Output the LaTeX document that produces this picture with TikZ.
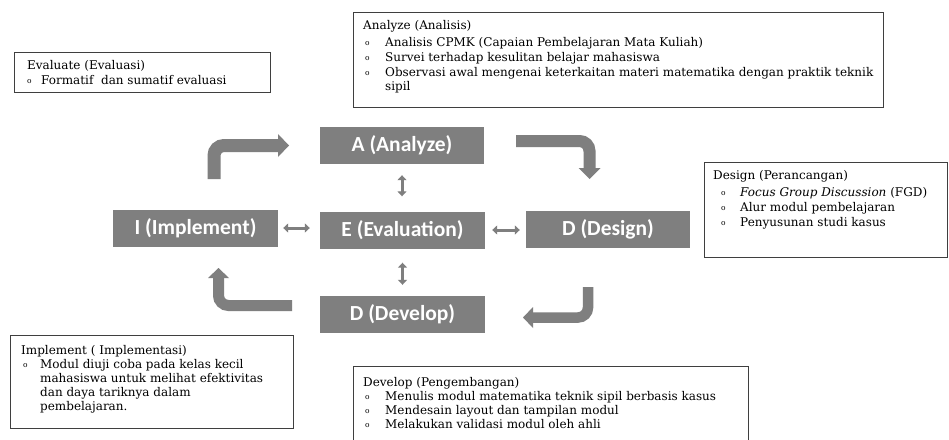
\documentclass[tikz,border=0pt]{standalone}
\usepackage{fontspec}
\setmainfont{DejaVu Serif}
\newfontfamily\blockfont{Carlito}
\usetikzlibrary{arrows.meta}
\definecolor{blockgray}{HTML}{7F7F7F}
\definecolor{boxline}{HTML}{3F3F3F}
\newcommand{\smallo}{\raisebox{0.15ex}{\fontsize{7.5}{7.5}\selectfont o}}
\newcommand{\itm}[3]{\hspace*{#1}\makebox[#2][l]{\smallo}#3}
\begin{document}
\begin{tikzpicture}[x=1pt,y=-1pt,
  block/.style={fill=blockgray, text=white, font=\blockfont\bfseries\fontsize{21.5}{24}\selectfont, inner sep=0, minimum height=37pt},
  tbox/.style={draw=boxline, line width=0.8pt, anchor=north west, inner sep=0},
  ttext/.style={anchor=north west, inner sep=0, align=left, font=\fontsize{12}{#1}\selectfont},
  ttext/.default=14.6,
  shaft/.style={draw=blockgray, rounded corners=10pt},
  head/.style={fill=blockgray},
  dbl/.style={draw=blockgray, line width=3pt, {Triangle[width=9pt,length=5pt]}-{Triangle[width=9pt,length=5pt]}}
]
\useasboundingbox (0,0) rectangle (949,439);
\fill[white] (0,0) rectangle (949,439);

% blocks
\node[block, minimum width=164pt] (A) at (402,145.5) {A (Analyze)};
\node[block, minimum width=165pt] (E) at (402.5,230) {E (Evaluation)};
\node[block, minimum width=164pt] (Ds) at (608,229.5) {D (Design)};
\node[block, minimum width=165pt] (Dv) at (402.5,314.5) {D (Develop)};
\node[block, minimum width=165pt] (I) at (195.5,228) {I (Implement)};

% double arrows
\draw[dbl, shorten <=5pt, shorten >=10pt] (I.east) -- (I.east -| E.west);
\draw[dbl, shorten <=7pt, shorten >=6pt] (E.east) -- (E.east -| Ds.west);
\draw[dbl, shorten <=11pt, shorten >=15pt] (A.south) -- (A.south |- E.north);
\draw[dbl, shorten <=14pt, shorten >=11pt] (E.south) -- (E.south |- Dv.north);

% block arrows
\coordinate (tla) at (214,179);
\coordinate (tlb) at (214,145.5);
\coordinate (tlc) at (278.5,145.5);
\draw[shaft, line width=13pt] (tla) -- (tlb) -- (tlc);
\fill[head] (278,134) -- (289,145.5) -- (278,157) -- cycle;

\coordinate (tra) at (516,141);
\coordinate (trb) at (589.5,141);
\coordinate (trc) at (589.5,168.5);
\draw[shaft, line width=12pt] (tra) -- (trb) -- (trc);
\fill[head] (578.5,168) -- (600.5,168) -- (589.5,179) -- cycle;

\coordinate (bra) at (588,287);
\coordinate (brb) at (588,317.5);
\coordinate (brc) at (532.5,317.5);
\draw[shaft, line width=10.5pt] (bra) -- (brb) -- (brc);
\fill[head] (533,307) -- (533,328) -- (523,317.5) -- cycle;

\coordinate (bla) at (292,305.5);
\coordinate (blb) at (218.5,305.5);
\coordinate (blc) at (218.5,277.5);
\draw[shaft, line width=11pt] (bla) -- (blb) -- (blc);
\fill[head] (208,278) -- (229,278) -- (218.5,268) -- cycle;

% text boxes
\node[tbox, minimum width=530pt, minimum height=95pt] (anb) at (353,12) {};
\node[ttext] (ant) at (363,20) {Analyze (Analisis)\\[3pt]
\itm{2pt}{20pt}{Analisis CPMK (Capaian Pembelajaran Mata Kuliah)}\\
\itm{2pt}{20pt}{Survei terhadap kesulitan belajar mahasiswa}\\
\itm{2pt}{20pt}{Observasi awal mengenai keterkaitan materi matematika dengan praktik teknik}\\
\hspace*{22pt}sipil};

\node[tbox, minimum width=256pt, minimum height=40pt] (evb) at (14,52) {};
\node[ttext=15] (evt) at (27,60) {Evaluate (Evaluasi)\\
\itm{0pt}{14pt}{Formatif\ \ dan sumatif evaluasi}};

\node[tbox, minimum width=243pt, minimum height=95pt] (dsb) at (704,162) {};
\node[ttext] (dst) at (713,170) {Design (Perancangan)\\[3pt]
\itm{8pt}{19pt}{\textit{Focus Group Discussion} (FGD)}\\
\itm{8pt}{19pt}{Alur modul pembelajaran}\\
\itm{8pt}{19pt}{Penyusunan studi kasus}};

\node[tbox, minimum width=283pt, minimum height=93pt] (imb) at (10,335) {};
\node[ttext=14] (imt) at (21,345) {Implement ( Implementasi)\\
\itm{2pt}{17pt}{Modul diuji coba pada kelas kecil}\\
\hspace*{19pt}mahasiswa untuk melihat efektivitas\\
\hspace*{19pt}dan daya tariknya dalam\\
\hspace*{19pt}pembelajaran.};

\node[tbox, minimum width=395pt, minimum height=80pt] (dvb) at (353,366) {};
\node[ttext=14] (dvt) at (363,377) {Develop (Pengembangan)\\
\itm{2pt}{20pt}{Menulis modul matematika teknik sipil berbasis kasus}\\
\itm{2pt}{20pt}{Mendesain layout dan tampilan modul}\\
\itm{2pt}{20pt}{Melakukan validasi modul oleh ahli}};
\end{tikzpicture}
\end{document}
